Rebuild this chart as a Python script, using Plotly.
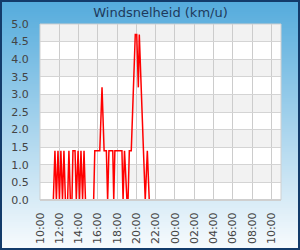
import plotly.graph_objects as go

# ---- data ----
day = "2024-05-14"
times = ["11:23", "11:33", "11:42", "11:52", "12:01", "12:10", "12:20", "12:29", "12:38",
         "12:52", "13:00", "13:09", "13:19", "13:25", "13:38", "13:46", "13:57", "14:06",
         "14:15", "14:25", "14:34", "14:43", "15:34", "15:41", "16:12", "16:26", "16:39",
         "16:53", "17:01", "17:09", "17:33", "17:39", "17:46", "18:30", "18:37", "18:46",
         "19:01", "19:08", "19:16", "19:28", "19:53", "20:02", "20:12", "20:18", "20:55",
         "21:08", "21:20"]
wind = [0, 1.4, 0, 1.4, 0, 1.4, 0, 1.4, 0,
        0, 1.4, 0, 0, 1.4, 1.4, 0, 1.4, 0,
        1.4, 0, 1.4, 0, 0, 1.4, 1.4, 3.2, 1.4,
        1.4, 0, 1.4, 1.4, 0, 1.4, 1.4, 0, 1.4,
        0, 0, 1.4, 1.4, 4.7, 4.7, 3.2, 4.7, 0,
        1.4, 0]
x_ticks = ["2024-05-14 10:00", "2024-05-14 12:00", "2024-05-14 14:00", "2024-05-14 16:00",
           "2024-05-14 18:00", "2024-05-14 20:00", "2024-05-14 22:00", "2024-05-15 00:00",
           "2024-05-15 02:00", "2024-05-15 04:00", "2024-05-15 06:00", "2024-05-15 08:00",
           "2024-05-15 10:00"]
x_tick_text = ["10:00", "12:00", "14:00", "16:00", "18:00", "20:00", "22:00", "00:00",
               "02:00", "04:00", "06:00", "08:00", "10:00"]
title = "Windsnelheid (km/u)"

x = [f"{day} {t}" for t in times]

W, H = 300, 250
L, R, T, B = 40, 19, 24, 50
pw, ph = W - L - R, H - T - B


def px(xp):
    return (xp - L) / pw


def py(yp):
    return (H - B - yp) / ph


shapes = []
# gradient background
n = 125
top = (84, 171, 220)
bot = (248, 251, 253)
for i in range(n):
    f = i / (n - 1)
    c = tuple(round(top[k] + (bot[k] - top[k]) * f) for k in range(3))
    y0 = i * H / n
    y1 = (i + 1) * H / n + 0.6
    shapes.append(dict(type="rect", xref="paper", yref="paper", x0=px(0), x1=px(W),
                       y0=py(y1), y1=py(y0), fillcolor=f"rgb{c}", line_width=0, layer="below"))
# plot area white
shapes.append(dict(type="rect", xref="paper", yref="paper", x0=0, x1=1, y0=0, y1=1,
                   fillcolor="white", line_width=0, layer="below"))
# alternating bands
for k in range(5):
    shapes.append(dict(type="rect", xref="paper", yref="y", x0=0, x1=1, y0=k + 0.5, y1=k + 1.0,
                       fillcolor="#f2f2f2", line_width=0, layer="below"))
# plot border
shapes.append(dict(type="rect", xref="paper", yref="paper", x0=0, x1=1, y0=0, y1=1,
                   line=dict(color="#cfcfcf", width=1), layer="above"))
shapes.append(dict(type="line", xref="paper", yref="paper", x0=0, x1=1, y0=0, y1=0,
                   line=dict(color="#cfcfcf", width=2), layer="above"))
# outer border
shapes.append(dict(type="rect", xref="paper", yref="paper", x0=px(1), x1=px(W - 1),
                   y0=py(H - 1), y1=py(1), line=dict(color="#133b6a", width=2), layer="above"))

fig = go.Figure(go.Scatter(x=x, y=wind, mode="lines",
                           line=dict(color="#ff0000", width=1.5), hoverinfo="skip"))

fig.update_layout(
    width=W, height=H,
    margin=dict(l=L, r=R, t=T, b=B, pad=0, autoexpand=False),
    paper_bgcolor="#ffffff", plot_bgcolor="#ffffff",
    showlegend=False,
    shapes=shapes,
    title=dict(text=title, x=0.5, xref="paper", xanchor="center", y=1 - 12 / H, yanchor="middle",
               font=dict(family="DejaVu Sans", size=13, color="#1e3a5c")),
    font=dict(family="DejaVu Sans", size=11, color="#444444"),
)
fig.update_xaxes(
    range=["2024-05-14 10:00", "2024-05-15 11:00"], automargin=False,
    tickmode="array", tickvals=x_ticks, ticktext=x_tick_text, tickangle=-90,
    showgrid=True, gridcolor="#cccccc", gridwidth=1, zeroline=False, showline=False,
    ticks="outside", ticklen=7, tickcolor="rgba(0,0,0,0)",
    tickfont=dict(family="DejaVu Sans", size=11, color="#444444"),
)
fig.update_yaxes(
    range=[0, 5], dtick=0.5, tick0=0, tickformat=".1f", automargin=False,
    showgrid=True, gridcolor="#d4d4d4", gridwidth=1, zeroline=False, showline=False,
    ticks="outside", ticklen=8, tickcolor="rgba(0,0,0,0)",
    tickfont=dict(family="DejaVu Sans", size=11, color="#444444"),
)

fig.write_html("out.html", config=dict(displayModeBar=False))
